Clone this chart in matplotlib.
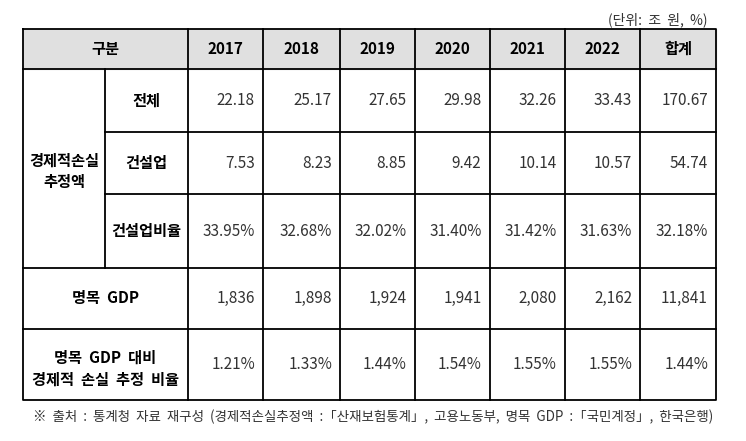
import matplotlib
matplotlib.use("Agg")
import matplotlib.pyplot as plt

plt.rcParams['font.family'] = ['Noto Sans CJK KR', 'DejaVu Sans']

years = ["2017", "2018", "2019", "2020", "2021", "2022", "합계"]
total_loss = ["22.18", "25.17", "27.65", "29.98", "32.26", "33.43", "170.67"]
construction = ["7.53", "8.23", "8.85", "9.42", "10.14", "10.57", "54.74"]
construction_ratio = ["33.95%", "32.68%", "32.02%", "31.40%", "31.42%", "31.63%", "32.18%"]
nominal_gdp = ["1,836", "1,898", "1,924", "1,941", "2,080", "2,162", "11,841"]
gdp_ratio = ["1.21%", "1.33%", "1.44%", "1.54%", "1.55%", "1.55%", "1.44%"]

unit_note = "(단위:  조  원,  %)"
source_note = "※  출처  :  통계청  자료  재구성  (경제적손실추정액  :「산재보험통계」,  고용노동부,  명목  GDP  :「국민계정」,  한국은행)"

# layout in pixels
W, H = 746, 441
col_x = [23, 105, 188, 263, 340, 414.5, 489.5, 565, 640, 716]
row_y = [29, 69, 132, 194, 268, 329, 400]

fig = plt.figure(figsize=(W / 100, H / 100), dpi=100)
ax = fig.add_axes([0, 0, 1, 1])
ax.set_xlim(0, W)
ax.set_ylim(H, 0)
ax.axis('off')

lw = 1.3
fs = 11
val_color = '#333333'

# header background
ax.fill_between([col_x[0], col_x[-1]], row_y[0], row_y[1], color='#e0e0e0', zorder=0)

# outer frame and lines
ax.plot([col_x[0], col_x[-1], col_x[-1], col_x[0], col_x[0]],
        [row_y[0], row_y[0], row_y[-1], row_y[-1], row_y[0]], color='black', lw=lw)
for y in row_y[1:-1]:
    x0 = col_x[1] if y in (row_y[2], row_y[3]) else col_x[0]
    ax.plot([x0, col_x[-1]], [y, y], color='black', lw=lw)
# vertical lines
ax.plot([col_x[1], col_x[1]], [row_y[1], row_y[4]], color='black', lw=lw)
for x in col_x[2:-1]:
    ax.plot([x, x], [row_y[0], row_y[-1]], color='black', lw=lw)

# header texts
ax.text((col_x[0] + col_x[2]) / 2, (row_y[0] + row_y[1]) / 2, "구분",
        ha='center', va='center', fontsize=fs, fontweight='bold')
for i, label in enumerate(years):
    ax.text((col_x[i + 2] + col_x[i + 3]) / 2, (row_y[0] + row_y[1]) / 2, label,
            ha='center', va='center', fontsize=fs, fontweight='bold')

# row headings
ax.text((col_x[0] + col_x[1]) / 2, (row_y[1] + row_y[4]) / 2 + 3, "경제적손실\n추정액",
        ha='center', va='center', fontsize=fs, fontweight='bold', linespacing=1.4)
sub_labels = ["전체", "건설업", "건설업비율"]
for r, label in enumerate(sub_labels):
    ax.text((col_x[1] + col_x[2]) / 2, (row_y[r + 1] + row_y[r + 2]) / 2, label,
            ha='center', va='center', fontsize=fs, fontweight='bold')
ax.text((col_x[0] + col_x[2]) / 2, (row_y[4] + row_y[5]) / 2, "명목  GDP",
        ha='center', va='center', fontsize=fs, fontweight='bold')
ax.text((col_x[0] + col_x[2]) / 2, (row_y[5] + row_y[6]) / 2 + 4, "명목  GDP  대비\n경제적  손실  추정  비율",
        ha='center', va='center', fontsize=fs, fontweight='bold', linespacing=1.5)

# values
rows = [total_loss, construction, construction_ratio, nominal_gdp, gdp_ratio]
for r, vals in enumerate(rows):
    yc = (row_y[r + 1] + row_y[r + 2]) / 2
    for i, v in enumerate(vals):
        ax.text(col_x[i + 3] - 8, yc, v, ha='right', va='center',
                fontsize=fs, color=val_color)

ax.text(708, 20, unit_note, ha='right', va='center', fontsize=10, color=val_color)
ax.text(33, 417, source_note, ha='left', va='center', fontsize=9.7, color=val_color)

fig.savefig("out.png", dpi=100)
